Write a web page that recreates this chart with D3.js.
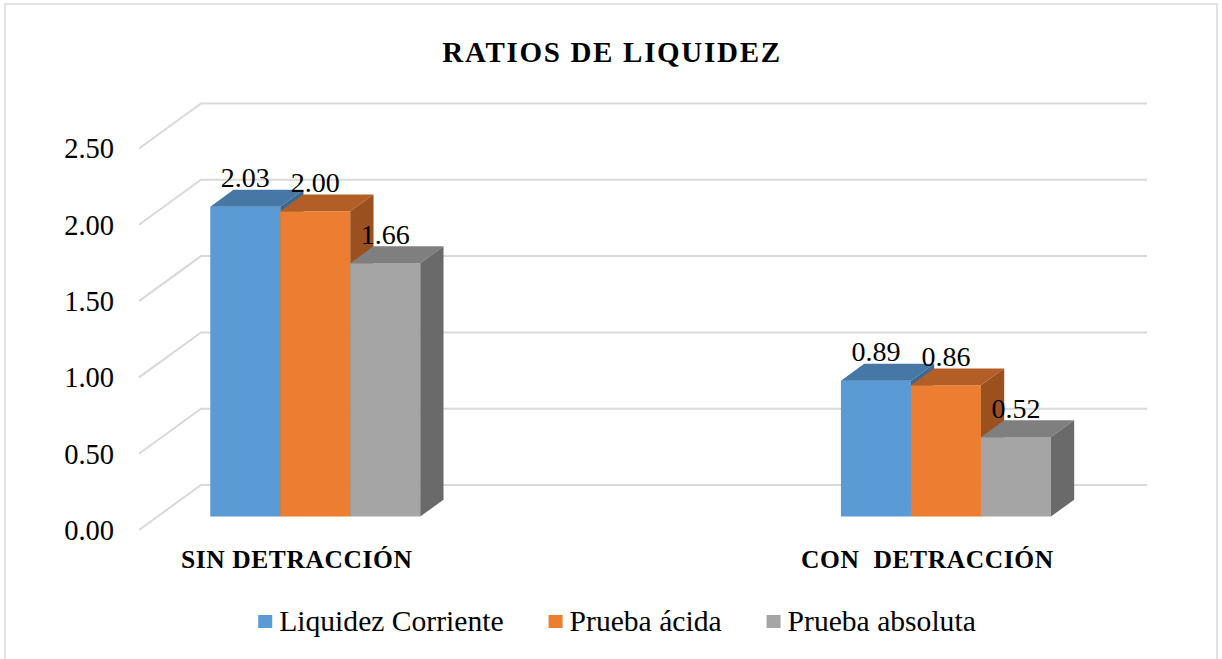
<!DOCTYPE html>
<html>
<head>
  <meta charset="utf-8">
  <title>Ratios de liquidez</title>
  <style>
    body { margin: 0; background: white; }
  </style>
</head>
<body>
  <svg id="chart"></svg>
  <script src="https://cdn.jsdelivr.net/npm/d3@7"></script>
  <script>
    // datos del gráfico
    var categories = ["SIN DETRACCIÓN", "CON  DETRACCIÓN"];
    var seriesNames = ["Liquidez Corriente", "Prueba ácida", "Prueba absoluta"];
    var liquidezCorriente = [2.03, 0.89];
    var pruebaAcida = [2.00, 0.86];
    var pruebaAbsoluta = [1.66, 0.52];
    var yTicks = [0, 0.5, 1, 1.5, 2, 2.5];

    var width = 1222, height = 659;
    var fontFamily = "'Liberation Serif', 'Times New Roman', Times, 'DejaVu Serif', serif";
    // caras: frente, arriba, lado
    var colors = [
      { front: "#5b9bd5", top: "#4677a5", side: "#3d6890" },
      { front: "#ed7d31", top: "#b35e26", side: "#9a511f" },
      { front: "#a5a5a5", top: "#7f7f7f", side: "#6a6a6a" }
    ];
    var values = [liquidezCorriente, pruebaAcida, pruebaAbsoluta];

    // geometría de la perspectiva oblicua
    var floor = { x0: 139, x1: 1085 };
    var depthDx = 62, depthDy = 45;      // desplazamiento del fondo
    var barZ0 = 0.3, barZ1 = 0.675;       // profundidad de las barras
    var barWidth = 70;

    var svg = d3.select("#chart").attr("width", width).attr("height", height)
      .style("display", "block")
      .attr("font-family", fontFamily);

    svg.append("rect")
      .attr("x", 5).attr("y", 4)
      .attr("width", 1212).attr("height", 660)
      .attr("fill", "white")
      .attr("stroke", "#d9d9d9")
      .attr("stroke-width", 1.5);

    var y = d3.scaleLinear().domain([0, 2.5]).range([530, 148.5]);
    var x = d3.scalePoint().domain(categories).range([floor.x0, floor.x1]).padding(0.25);
    var xSeries = d3.scaleBand().domain(seriesNames).range([-barWidth * 1.5, barWidth * 1.5]);

    // título
    svg.append("text")
      .attr("x", 612).attr("y", 62)
      .attr("text-anchor", "middle")
      .attr("font-size", "29px")
      .attr("font-weight", "bold")
      .attr("letter-spacing", "1.7px")
      .text("RATIOS DE LIQUIDEZ");

    // líneas de la cuadrícula (pared izquierda + pared del fondo)
    var grid = svg.append("g").attr("stroke", "#d9d9d9").attr("stroke-width", 2).attr("fill", "none");
    grid.selectAll("path")
      .data(yTicks)
      .join("path")
      .attr("d", function (d) {
        return "M" + floor.x0 + "," + y(d) +
          "L" + (floor.x0 + depthDx) + "," + (y(d) - depthDy) +
          "L" + (floor.x1 + depthDx) + "," + (y(d) - depthDy);
      });

    // etiquetas del eje
    svg.append("g")
      .selectAll("text")
      .data(yTicks)
      .join("text")
      .attr("x", 114)
      .attr("y", function (d) { return y(d); })
      .attr("dy", "0.35em")
      .attr("text-anchor", "end")
      .attr("font-size", "28.5px")
      .text(d3.format(".2f"));

    // barras 3D
    var dx = (barZ1 - barZ0) * depthDx, dy = (barZ1 - barZ0) * depthDy;
    var bars = [];
    categories.forEach(function (c, ci) {
      seriesNames.forEach(function (s, si) {
        var L = x(c) + xSeries(s) + barZ0 * depthDx;
        var R = L + xSeries.bandwidth();
        var T = y(values[si][ci]) - barZ0 * depthDy;
        var B = y(0) - barZ0 * depthDy;
        bars.push({ L: L, R: R, T: T, B: B, v: values[si][ci], col: colors[si] });
      });
    });

    var g = svg.append("g").selectAll("g").data(bars).join("g");
    g.append("rect")
      .attr("x", function (d) { return d.L; })
      .attr("y", function (d) { return d.T; })
      .attr("width", function (d) { return d.R - d.L; })
      .attr("height", function (d) { return d.B - d.T; })
      .attr("fill", function (d) { return d.col.front; });
    g.append("path")
      .attr("d", function (d) {
        return "M" + d.L + "," + d.T + "L" + d.R + "," + d.T +
          "L" + (d.R + dx) + "," + (d.T - dy) + "L" + (d.L + dx) + "," + (d.T - dy) + "Z";
      })
      .attr("fill", function (d) { return d.col.top; });
    g.append("path")
      .attr("d", function (d) {
        return "M" + d.R + "," + d.T + "L" + (d.R + dx) + "," + (d.T - dy) +
          "L" + (d.R + dx) + "," + (d.B - dy) + "L" + d.R + "," + d.B + "Z";
      })
      .attr("fill", function (d) { return d.col.side; });

    // etiquetas de datos
    svg.append("g")
      .selectAll("text")
      .data(bars)
      .join("text")
      .attr("x", function (d) { return (d.L + d.R) / 2; })
      .attr("y", function (d) { return d.T - 19.5; })
      .attr("text-anchor", "middle")
      .attr("font-size", "28px")
      .text(function (d) { return d3.format(".2f")(d.v); });

    // categorías
    svg.append("g")
      .selectAll("text")
      .data(categories)
      .join("text")
      .attr("x", function (d) { return x(d); })
      .attr("y", 568)
      .attr("text-anchor", "middle")
      .attr("font-size", "25.5px")
      .attr("font-weight", "bold")
      .attr("letter-spacing", "0.6px")
      .style("white-space", "pre")
      .text(function (d) { return d; });

    // leyenda
    var legend = svg.append("g");
    var lx = 0, gap = 45;
    var items = legend.selectAll("g").data(seriesNames).join("g");
    items.append("rect")
      .attr("y", 615).attr("width", 14).attr("height", 13)
      .attr("fill", function (d, i) { return colors[i].front; });
    items.append("text")
      .attr("x", 21).attr("y", 631)
      .attr("font-size", "29.6px")
      .text(function (d) { return d; });
    items.each(function () {
      var w = this.getBBox().width;
      d3.select(this).attr("transform", "translate(" + lx + ",0)");
      lx += w + gap;
    });
    var total = lx - gap;
    legend.attr("transform", "translate(" + (617 - total / 2) + ",0)");
  </script>
</body>
</html>
